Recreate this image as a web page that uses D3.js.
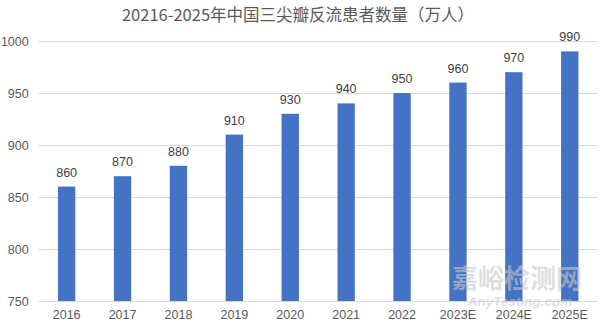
<!DOCTYPE html>
<html><head><meta charset="utf-8">
<script src="https://cdn.jsdelivr.net/npm/d3@7"></script>
<style>body{margin:0;background:#fff;}svg{display:block;}</style>
</head><body>
<svg id="c" width="600" height="324"></svg>
<script>
const categories = ["2016","2017","2018","2019","2020","2021","2022","2023E","2024E","2025E"];
const values = [860,870,880,910,930,940,950,960,970,990];
const yTicks = [750,800,850,900,950,1000];
const title = "20216-2025年中国三尖瓣反流患者数量（万人）";

const svg = d3.select("#c");
const mLeft = 38.7, mRight = 597.7, mTop = 41, mBottom = 301;
const x = d3.scaleBand().domain(categories).range([mLeft, mRight]).paddingInner(0.69).paddingOuter(0.345);
const y = d3.scaleLinear().domain([750,1000]).range([mBottom, mTop]);
const font = "'Liberation Sans', Arial, sans-serif";

svg.append("text").attr("x", 298).attr("y", 21).attr("text-anchor","middle")
  .attr("font-family","'Noto Sans CJK SC', sans-serif").attr("font-size",16.5)
  .attr("fill","#595959").text(title);

const ya = svg.append("g").attr("transform",`translate(${mLeft},0)`)
  .call(d3.axisLeft(y).tickValues(yTicks).tickSize(-(mRight-mLeft)).tickPadding(10).tickFormat(d3.format("d")));
ya.select(".domain").remove();
ya.selectAll(".tick line").attr("stroke","#d9d9d9").attr("stroke-width",1);
ya.selectAll(".tick text").attr("font-family",font).attr("font-size",12.5).attr("fill","#595959");

svg.append("g").selectAll("rect").data(values).join("rect")
  .attr("x",(d,i)=>x(categories[i])).attr("width",x.bandwidth())
  .attr("y",d=>y(d)).attr("height",d=>mBottom-y(d)).attr("fill","#4472c4");

svg.append("g").selectAll("text").data(values).join("text")
  .attr("x",(d,i)=>x(categories[i])+x.bandwidth()/2).attr("y",d=>y(d)-10)
  .attr("text-anchor","middle").attr("font-family",font).attr("font-size",12.5)
  .attr("fill","#404040").text(d=>d);

const xa = svg.append("g").attr("transform",`translate(0,${mBottom})`)
  .call(d3.axisBottom(x).tickSize(0).tickPadding(9));
xa.select(".domain").attr("stroke","#d9d9d9");
xa.selectAll(".tick text").attr("font-family",font).attr("font-size",12.5).attr("fill","#595959");

// watermark
svg.append("text").attr("x",517).attr("y",288).attr("text-anchor","middle")
  .attr("font-family","'Noto Sans CJK SC', sans-serif").attr("font-size",26).attr("font-weight","bold")
  .attr("fill","#c8c8c8").attr("fill-opacity",0.6).text("嘉峪检测网");
svg.append("text").attr("x",520).attr("y",306).attr("text-anchor","middle")
  .attr("font-family",font).attr("font-size",13.5).attr("font-style","italic").attr("font-weight","bold")
  .attr("fill","#c8c8c8").attr("fill-opacity",0.55).text("AnyTesting.com");
</script>
</body></html>
